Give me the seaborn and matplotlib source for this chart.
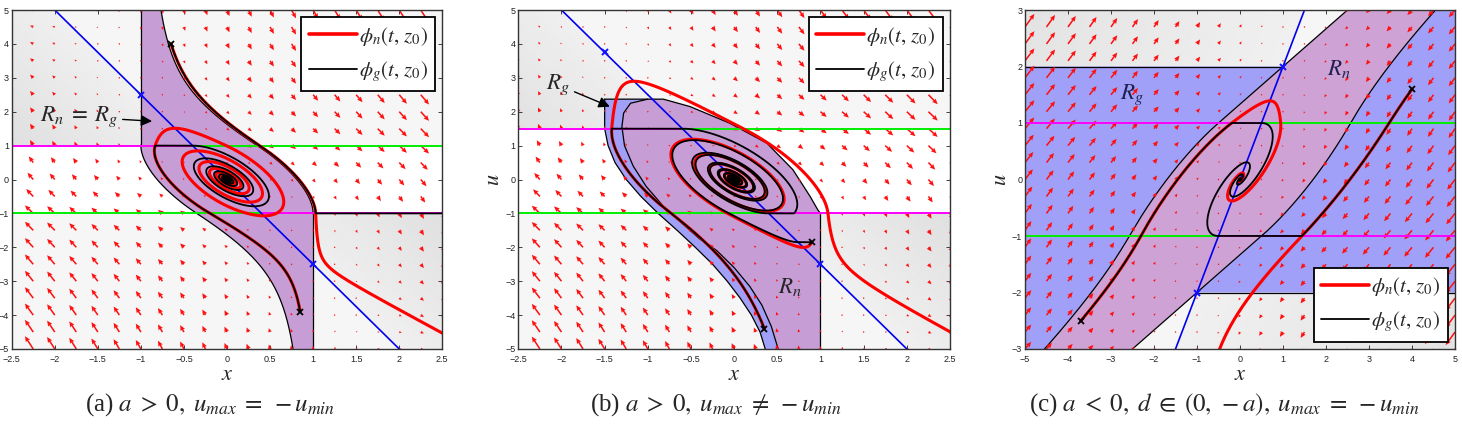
import numpy as np
import matplotlib
matplotlib.use("Agg")
import matplotlib.pyplot as plt
import seaborn as sns
from matplotlib.lines import Line2D

sns.set_theme(style="white")
plt.rcParams["font.family"] = ["Liberation Sans", "DejaVu Sans"]
plt.rcParams["mathtext.fontset"] = "stix"

# ---------------- data ----------------
# system: x' = a x + b sat(u),  u' = c x + d u   -> [a, b, c, d]
sys_a = [1.0, 1.0, -3.0, -1.2]
sys_b = [1.0, 1.0, -3.0, -1.2]
sys_c = [-1.0, 1.0, -1.0, 0.5]
# saturation limits [u_min, u_max]
sat_a = [-1.0, 1.0]
sat_b = [-1.0, 1.5]
sat_c = [-1.0, 1.0]
# axis limits
xlim_ab = [-2.5, 2.5]
ulim_ab = [-5.0, 5.0]
xlim_c = [-5.0, 5.0]
ulim_c = [-3.0, 3.0]
xticks_ab = [-2.5, -2, -1.5, -1, -0.5, 0, 0.5, 1, 1.5, 2, 2.5]
uticks_ab = [-5, -4, -3, -2, -1, 0, 1, 2, 3, 4, 5]
xticks_c = [-5, -4, -3, -2, -1, 0, 1, 2, 3, 4, 5]
uticks_c = [-3, -2, -1, 0, 1, 2, 3]
# initial conditions z0
starts_a = [[0.85, -3.9], [-0.65, 4.0]]
starts_b = [[0.35, -4.4], [0.9, -1.85]]
starts_c = [[-3.7, -2.5], [4.0, 1.6]]
# panel (b) region boundaries
rb_top_right = [[-1.5, 2.37], [-0.82, 2.37], [-0.51, 2.15], [-0.05, 1.66], [0.38, 1.07],
                [0.68, 0.29], [0.88, -0.5], [0.97, -0.9], [1.0, -1.0], [1.0, -5.0]]
rb_outer_left = [[-1.5, 2.37], [-1.5, 1.5], [-1.46, 1.0], [-1.38, 0.5], [-1.25, 0.0],
                 [-1.08, -0.5], [-0.88, -1.0], [-0.66, -1.5], [-0.45, -2.0], [-0.25, -2.5],
                 [-0.08, -3.0], [0.07, -3.5], [0.2, -4.0], [0.3, -4.5], [0.36, -5.0]]
rb_inner_left = [[-1.0, 2.37], [-1.2, 2.25], [-1.28, 1.96], [-1.30, 1.56], [-1.27, 1.0],
                 [-1.17, 0.4], [-1.02, -0.2], [-0.8, -0.85], [-0.6, -1.3], [-0.4, -1.75],
                 [-0.2, -2.1], [0.0, -2.6], [0.18, -3.15], [0.32, -3.7], [0.43, -4.33],
                 [0.51, -5.0]]
captions = [r"(a) $a\;>\;0,\;u_{max}\;=\;-u_{min}$",
            r"(b) $a\;>\;0,\;u_{max}\;\neq\;-u_{min}$",
            r"(c) $a\;<\;0,\;d\;\in\;(0,\,-a),\;u_{max}\;=\;-u_{min}$"]
leg_labels = [r"$\phi_n(t,\,z_0)$", r"$\phi_g(t,\,z_0)$"]

PURPLE = "#c69dd5"
PURPLE_C = "#cfa2d6"
BLUEFILL = "#a0a0f8"


# ---------------- dynamics ----------------
def field(x, u, p, s, gen):
    a, b, c, d = p
    xd = a * x + b * min(max(u, s[0]), s[1])
    ud = c * x + d * u
    if gen and ((u >= s[1] and ud > 0) or (u <= s[0] and ud < 0)):
        ud = 0.0
    return xd, ud


def simulate(z0, p, s, xl, ul, gen=False, sign=1.0, T=60.0, dt=0.005):
    x, u = float(z0[0]), float(z0[1])
    xs, us = [x], [u]
    n = int(T / dt)
    mx = 0.6 * (xl[1] - xl[0]) / 5.0
    mu = 0.6 * (ul[1] - ul[0]) / 5.0
    for _ in range(n):
        k1 = field(x, u, p, s, gen)
        k2 = field(x + dt / 2 * sign * k1[0], u + dt / 2 * sign * k1[1], p, s, gen)
        k3 = field(x + dt / 2 * sign * k2[0], u + dt / 2 * sign * k2[1], p, s, gen)
        k4 = field(x + dt * sign * k3[0], u + dt * sign * k3[1], p, s, gen)
        xn = x + sign * dt / 6 * (k1[0] + 2 * k2[0] + 2 * k3[0] + k4[0])
        un = u + sign * dt / 6 * (k1[1] + 2 * k2[1] + 2 * k3[1] + k4[1])
        if gen and s[0] <= u <= s[1]:
            un = min(max(un, s[0]), s[1])
        x, u = xn, un
        xs.append(x)
        us.append(u)
        if x < xl[0] - mx or x > xl[1] + mx or u < ul[0] - mu or u > ul[1] + mu:
            break
    return np.array(xs), np.array(us)


def equilibria(p, s):
    a, b, c, d = p
    pts = []
    for lim in (s[1], s[0]):
        xe = -b * lim / a
        pts.append((xe, -c * xe / d))
    return pts


def background(ax, p, s, xl, ul, S):
    a, b, c, d = p
    xs = np.linspace(xl[0], xl[1], 400)
    us = np.linspace(ul[0], ul[1], 400)
    X, U = np.meshgrid(xs, us)
    Ud = c * X + d * U
    G = np.full(X.shape, 0.962)
    G[(U > s[0]) & (U < s[1])] = 1.0
    dark = ((U >= s[1]) & (Ud > 0)) | ((U <= s[0]) & (Ud < 0))
    G = np.where(dark, 0.94 - 0.06 * np.clip(np.abs(Ud) / S, 0, 1), G)
    ax.imshow(G, extent=[xl[0], xl[1], ul[0], ul[1]], origin="lower", cmap="gray",
              vmin=0, vmax=1, aspect="auto", interpolation="bilinear", zorder=0)


def quiver_field(ax, p, s, xl, ul, dx, du):
    a, b, c, d = p
    xs = np.arange(xl[0], xl[1] + 1e-9, dx)
    us = np.arange(ul[0], ul[1] + 1e-9, du)
    X, U = np.meshgrid(xs, us)
    Xd = a * X + b * np.clip(U, s[0], s[1])
    Ud = c * X + d * U
    ln = np.sqrt((Xd / dx) ** 2 + (Ud / du) ** 2)
    sc = 0.9 / ln.max()
    ax.quiver(X, U, Xd * sc, Ud * sc, angles="xy", scale_units="xy", scale=1,
              color="#ff1010", width=0.0036, headwidth=3.2, headlength=3.6,
              headaxislength=3.2, zorder=3)


def sat_lines(ax, p, s, xl):
    a, b, c, d = p
    for lim, outward_sign in ((s[1], 1), (s[0], -1)):
        xc = -d * lim / c
        udl = c * (xl[0]) + d * lim
        col_left = "#ff00ff" if udl * outward_sign > 0 else "#00ee00"
        col_right = "#00ee00" if col_left == "#ff00ff" else "#ff00ff"
        ax.plot([xl[0], xc], [lim, lim], color=col_left, lw=1.4, zorder=4)
        ax.plot([xc, xl[1]], [lim, lim], color=col_right, lw=1.4, zorder=4)


def nullcline(ax, p, s, xl, ul):
    a, b, c, d = p
    xs = np.array([xl[0] - 1, xl[1] + 1])
    ax.plot(xs, -c * xs / d, color="#0000ee", lw=1.2, zorder=4)
    for xe, ue in equilibria(p, s):
        ax.plot([xe], [ue], marker="x", color="#1010ff", ms=5, mew=1.4, zorder=8)


def trajectories(ax, p, s, xl, ul, starts):
    for z0 in starts:
        xn, un = simulate(z0, p, s, xl, ul, gen=False)
        sns.lineplot(x=xn, y=un, sort=False, estimator=None, color="#ff0000", lw=2.2,
                     ax=ax, zorder=6)
    for z0 in starts:
        xg, ug = simulate(z0, p, s, xl, ul, gen=True)
        sns.lineplot(x=xg, y=ug, sort=False, estimator=None, color="black", lw=1.3,
                     ax=ax, zorder=7)
        ax.plot([z0[0]], [z0[1]], marker="x", color="black", ms=5, mew=1.3, zorder=8)


def style_axes(ax, xl, ul, xt, ut, ylabel=True):
    ax.set_xlim(xl)
    ax.set_ylim(ul)
    ax.set_xticks(xt)
    ax.set_yticks(ut)
    ax.set_xticklabels([("%g" % v).replace("-", "\u2212") for v in xt])
    ax.set_yticklabels([("%g" % v).replace("-", "\u2212") for v in ut])
    ax.tick_params(direction="in", length=3, width=0.6, labelsize=6.5, colors="#222222",
                   top=True, right=True, bottom=True, left=True)
    ax.tick_params(axis="x", pad=4)
    ax.tick_params(axis="y", pad=2)
    for sp in ax.spines.values():
        sp.set_color("#333333")
        sp.set_linewidth(1.0)
        sp.set_zorder(20)
    ax.set_xlabel("$x$", fontsize=16, labelpad=0.5)
    if ylabel:
        ax.set_ylabel("$u$", fontsize=16, labelpad=1)


def legend(ax, loc):
    h = [Line2D([], [], color="#ff0000", lw=2.6), Line2D([], [], color="black", lw=1.3)]
    lg = ax.legend(h, leg_labels, loc=loc, fontsize=15, frameon=True, fancybox=False,
                   edgecolor="black", framealpha=1, handlelength=2.3, handletextpad=0.1,
                   borderpad=0.35, labelspacing=0.55, borderaxespad=0.35)
    lg.get_frame().set_linewidth(1.3)
    lg.set_zorder(30)


fig = plt.figure(figsize=(14.62, 4.25), dpi=100)
W, H = 1462.0, 425.0
ax_a = fig.add_axes([11.7 / W, (H - 349) / H, 430.6 / W, 339 / H])
ax_b = fig.add_axes([518.3 / W, (H - 349) / H, 431.7 / W, 339 / H])
ax_c = fig.add_axes([1025 / W, (H - 349) / H, 430 / W, 339 / H])

# ---------------- panel (a) ----------------
ax = ax_a
p, s = sys_a, sat_a
background(ax, p, s, xlim_ab, ulim_ab, 6.0)
lx, lu = simulate((-1.0, s[1]), p, s, xlim_ab, ulim_ab, sign=-1.0, T=20)
rx, ru = simulate((1.0, s[0]), p, s, xlim_ab, ulim_ab, sign=-1.0, T=20)
px = np.concatenate([[-1.0], lx, [1.0], rx])
pu = np.concatenate([[ru[-1]], lu, [lu[-1]], ru])
ax.fill(px, pu, color=PURPLE, lw=0, zorder=1)
ax.plot(lx, lu, color="black", lw=0.9, zorder=2)
ax.plot(rx, ru, color="black", lw=0.9, zorder=2)
ax.plot([-1, -1], [s[1], 6], color="black", lw=0.9, zorder=2)
ax.plot([1, 1], [s[0], -6], color="black", lw=0.9, zorder=2)
quiver_field(ax, p, s, xlim_ab, ulim_ab, 0.25, 0.5)
sat_lines(ax, p, s, xlim_ab)
nullcline(ax, p, s, xlim_ab, ulim_ab)
trajectories(ax, p, s, xlim_ab, ulim_ab, starts_a)
ax.annotate(r"$R_n\;=\;R_g$", xy=(-0.87, 1.72), xytext=(-1.72, 1.85), fontsize=16.5,
            ha="center", va="center", zorder=25,
            arrowprops=dict(arrowstyle="-|>", color="black", lw=1.0, shrinkA=1, shrinkB=0))
style_axes(ax, xlim_ab, ulim_ab, xticks_ab, uticks_ab, ylabel=False)
legend(ax, "upper right")

# ---------------- panel (b) ----------------
ax = ax_b
p, s = sys_b, sat_b
background(ax, p, s, xlim_ab, ulim_ab, 6.0)
tr = np.array(rb_top_right)
ol = np.array(rb_outer_left)
il = np.array(rb_inner_left)
rg = np.vstack([tr, ol[::-1]])
ax.fill(rg[:, 0], rg[:, 1], color=BLUEFILL, lw=0, zorder=1)
tri = tr[1:]
rn = np.vstack([[il[0]], tri, il[::-1]])
ax.fill(rn[:, 0], rn[:, 1], color=PURPLE, lw=0, zorder=1)
ax.plot(tr[:, 0], tr[:, 1], color="black", lw=0.9, zorder=2)
ax.plot(ol[:, 0], ol[:, 1], color="black", lw=0.9, zorder=2)
ax.plot(il[:, 0], il[:, 1], color="black", lw=0.9, zorder=2)
quiver_field(ax, p, s, xlim_ab, ulim_ab, 0.25, 0.5)
sat_lines(ax, p, s, xlim_ab)
nullcline(ax, p, s, xlim_ab, ulim_ab)
trajectories(ax, p, s, xlim_ab, ulim_ab, starts_b)
ax.annotate(r"$R_g$", xy=(-1.44, 2.15), xytext=(-2.04, 2.79), fontsize=16.5,
            ha="center", va="center", zorder=25,
            arrowprops=dict(arrowstyle="-|>", color="black", lw=1.0, shrinkA=1, shrinkB=0))
ax.text(0.65, -3.15, r"$R_n$", fontsize=16.5, ha="center", va="center", zorder=25)
style_axes(ax, xlim_ab, ulim_ab, xticks_ab, uticks_ab)
legend(ax, "upper right")

# ---------------- panel (c) ----------------
ax = ax_c
p, s = sys_c, sat_c
a, b, c, d = p
background(ax, p, s, xlim_c, ulim_c, 8.0)
v = np.array([d - a, -c])
v = v / np.linalg.norm(v)
eps = 1e-4
(xe1, ue1), (xe2, ue2) = equilibria(p, s)
up1 = simulate((xe1 + eps * v[0], ue1 + eps * v[1]), p, s, xlim_c, ulim_c, sign=-1.0, T=25)
dn1 = simulate((xe1 - eps * v[0], ue1 - eps * v[1]), p, s, xlim_c, ulim_c, sign=-1.0, T=25)
up2 = simulate((xe2 + eps * v[0], ue2 + eps * v[1]), p, s, xlim_c, ulim_c, sign=-1.0, T=25)
dn2 = simulate((xe2 - eps * v[0], ue2 - eps * v[1]), p, s, xlim_c, ulim_c, sign=-1.0, T=25)
Lx = np.concatenate([dn1[0][::-1], up1[0]])
Lu = np.concatenate([dn1[1][::-1], up1[1]])
Rx = np.concatenate([dn2[0][::-1], up2[0]])
Ru = np.concatenate([dn2[1][::-1], up2[1]])
mL = Lu <= ue1 + 1e-9
lb = np.concatenate([[xlim_c[0] - 1], Lx[mL], [xlim_c[0] - 1]])
lbu = np.concatenate([[Lu[mL][0]], Lu[mL], [ue1]])
ax.fill(lb, lbu, color=BLUEFILL, lw=0, zorder=1)
mR = Ru >= ue2 - 1e-9
rb = np.concatenate([[xlim_c[1] + 1], Rx[mR], [xlim_c[1] + 1]])
rbu = np.concatenate([[ue2], Ru[mR], [Ru[mR][-1]]])
ax.fill(rb, rbu, color=BLUEFILL, lw=0, zorder=1)
bx = np.concatenate([Lx, Rx[::-1]])
bu = np.concatenate([Lu, Ru[::-1]])
ax.fill(bx, bu, color=PURPLE_C, lw=0, zorder=1)
ax.plot(Lx, Lu, color="black", lw=0.9, zorder=2)
ax.plot(Rx, Ru, color="black", lw=0.9, zorder=2)
ax.plot([xlim_c[0], xe1], [ue1, ue1], color="black", lw=0.9, zorder=2)
ax.plot([xe2, xlim_c[1]], [ue2, ue2], color="black", lw=0.9, zorder=2)
quiver_field(ax, p, s, xlim_c, ulim_c, 0.5, 0.3)
sat_lines(ax, p, s, xlim_c)
nullcline(ax, p, s, xlim_c, ulim_c)
trajectories(ax, p, s, xlim_c, ulim_c, starts_c)
ax.text(-2.52, 1.5, r"$R_g$", fontsize=16.5, ha="center", va="center", color="#202050", zorder=25)
ax.text(2.29, 1.97, r"$R_n$", fontsize=16.5, ha="center", va="center", color="#202050", zorder=25)
style_axes(ax, xlim_c, ulim_c, xticks_c, uticks_c)
legend(ax, "lower right")

for xc_, cap in zip([210 / W, 716 / W, 1224 / W], captions):
    fig.text(xc_, 0.047, cap, ha="center", va="center", fontsize=18,
             family="Liberation Serif")

fig.savefig("out.png", dpi=100)
